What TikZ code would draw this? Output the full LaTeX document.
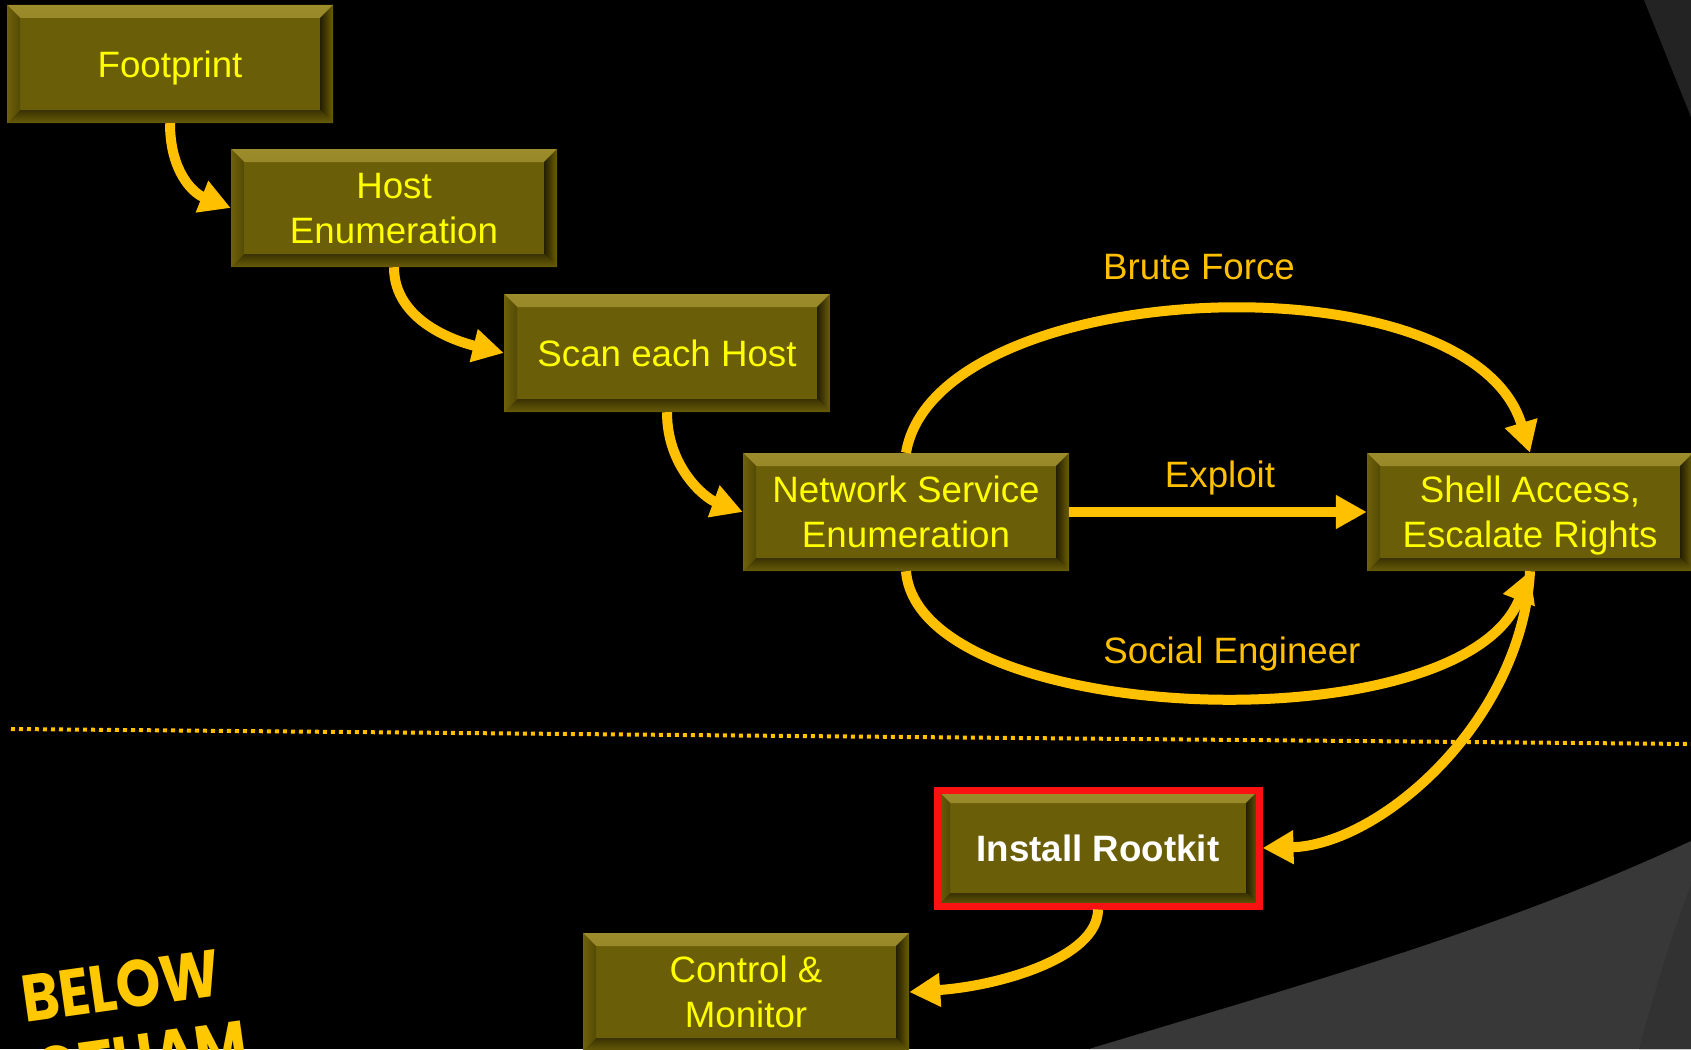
\documentclass[tikz,border=0pt]{standalone}
\usepackage{fontspec}
\setmainfont{Liberation Sans}
\newfontfamily\logofont{Poppins}
\usetikzlibrary{arrows.meta,calc}

\definecolor{face}{RGB}{107,94,8}
\definecolor{bvhi}{RGB}{156,140,44}
\definecolor{bvtop}{RGB}{116,103,14}
\definecolor{bvdark}{RGB}{36,31,0}
\definecolor{bvbot}{RGB}{58,50,2}
\definecolor{bvbotout}{RGB}{104,92,8}
\definecolor{bvleftout}{RGB}{110,97,10}
\definecolor{bvleftin}{RGB}{84,74,5}
\definecolor{boxtext}{RGB}{255,255,0}
\definecolor{flow}{RGB}{255,192,0}
\definecolor{logoyellow}{RGB}{255,200,0}
\definecolor{rim}{RGB}{250,18,18}
\definecolor{greyband}{RGB}{56,56,56}
\definecolor{greyband2}{RGB}{50,50,50}
\definecolor{greytop}{RGB}{35,35,35}

\tikzset{
  bevelled/.style={
    path picture={
      % top edge
      \shade[top color=bvhi, bottom color=bvtop]
        (path picture bounding box.north west) -- (path picture bounding box.north east)
        -- ([xshift=-13pt,yshift=-13pt]path picture bounding box.north east)
        -- ([xshift=13pt,yshift=-13pt]path picture bounding box.north west) -- cycle;
      % right edge
      \shade[left color=bvdark, right color=face]
        (path picture bounding box.north east) -- (path picture bounding box.south east)
        -- ([xshift=-13pt,yshift=13pt]path picture bounding box.south east)
        -- ([xshift=-13pt,yshift=-13pt]path picture bounding box.north east) -- cycle;
      % bottom edge
      \shade[top color=bvbot, bottom color=bvbotout]
        (path picture bounding box.south west) -- (path picture bounding box.south east)
        -- ([xshift=-13pt,yshift=13pt]path picture bounding box.south east)
        -- ([xshift=13pt,yshift=13pt]path picture bounding box.south west) -- cycle;
      % left edge
      \shade[left color=bvleftout, right color=bvleftin]
        (path picture bounding box.north west) -- (path picture bounding box.south west)
        -- ([xshift=13pt,yshift=13pt]path picture bounding box.south west)
        -- ([xshift=13pt,yshift=-13pt]path picture bounding box.north west) -- cycle;
    }
  },
  stepbox/.style={
    bevelled, fill=face, text=boxtext, align=center,
    minimum width=326pt, minimum height=118pt, inner sep=0pt, text depth=-4pt,
    font=\fontsize{36.7}{45}\selectfont
  },
  rootbox/.style={
    stepbox, draw=rim, line width=7pt, text=white,
    minimum width=322pt, minimum height=116pt,
    font=\fontsize{36.7}{45}\selectfont\bfseries
  },
  flowarrow/.style={
    draw=flow, line width=10pt,
    -{Triangle[length=31pt,width=32pt]}
  },
  pathlabel/.style={text=flow, anchor=base, font=\fontsize{36.7}{45}\selectfont},
  divider/.style={draw=flow, line width=4pt, dash pattern=on 4pt off 4pt},
  logotext/.style={rotate=8, xscale=0.86, inner sep=0pt, text=logoyellow,
    font=\logofont\bfseries\fontsize{66}{66}\selectfont}
}

\begin{document}
\begin{tikzpicture}[x=1pt,y=-1pt]
  \useasboundingbox (0,0) rectangle (1691,1049);
  \clip (0,0) rectangle (1691,1049);

  % backdrop
  \fill[black] (0,0) rectangle (1691,1049);
  \fill[greytop] (1644,0) -- (1691,0) -- (1691,117) -- cycle;
  \fill[greyband] (1089,1049) .. controls (1300,985) and (1500,930) .. (1691,841)
    -- (1691,1049) -- cycle;
  \fill[greyband2] (1639,1049) .. controls (1655,990) and (1670,940) .. (1691,885)
    -- (1691,1049) -- cycle;

  % dotted divider
  \coordinate (dl) at (11,729);
  \coordinate (dr) at (1691,744);
  \draw[divider] (dl) -- (dr);

  % steps
  \node[stepbox] (fp)    at (170,64)   {Footprint};
  \node[stepbox] (host)  at (394,208)  {Host\\Enumeration};
  \node[stepbox] (scan)  at (667,353)  {Scan each Host};
  \node[stepbox] (nse)   at (906,512)  {Network Service\\Enumeration};
  \node[stepbox] (shell) at (1530,512) {Shell Access,\\Escalate Rights};
  \node[rootbox] (root)  at (1098,848) {Install Rootkit};
  \node[stepbox] (ctrl)  at (746,992)  {Control \&\\Monitor};

  % connectors
  \draw[flowarrow] (fp.south) .. controls ($(fp.south)+(0,48)$)
    and ($(host.west)+(-38,-15)$) .. (host.west);
  \draw[flowarrow] (host.south) .. controls ($(host.south)+(0,55)$)
    and ($(scan.west)+(-45,-11)$) .. (scan.west);
  \draw[flowarrow] (scan.south) .. controls ($(scan.south)+(0,55)$)
    and ($(nse.west)+(-38,-14)$) .. (nse.west);
  \draw[flowarrow] (nse.north) .. controls ($(nse.north)+(30,-177)$)
    and ($(shell.north)+(-60,-200)$) .. (shell.north);
  \draw[flowarrow] (nse.east) -- (shell.west);
  \draw[flowarrow] (shell.south) .. controls ($(shell.south)+(-8,150)$)
    and ($(root.east)+(118,-3)$) .. (root.east);
  \draw[flowarrow] (nse.south) .. controls ($(nse.south)+(13,156)$)
    and ($(shell.south)+(-68,176)$) .. (shell.south);
  \draw[flowarrow] (root.south) .. controls ($(root.south)+(0,48)$)
    and ($(ctrl.east)+(90,-6)$) .. (ctrl.east);

  % connector labels
  \node[pathlabel] (lbrute)  at (1199,279) {Brute Force};
  \node[pathlabel] (lexpl)   at (1220,487) {Exploit};
  \node[pathlabel] (lsocial) at (1232,663) {Social Engineer};

  % corner logo
  \node[logotext, anchor=base west] (logo1) at (25,1023) {BELOW};
  \node[logotext, anchor=north east] (logo2) at (244,1019) {GOTHAM};
\end{tikzpicture}
\end{document}
